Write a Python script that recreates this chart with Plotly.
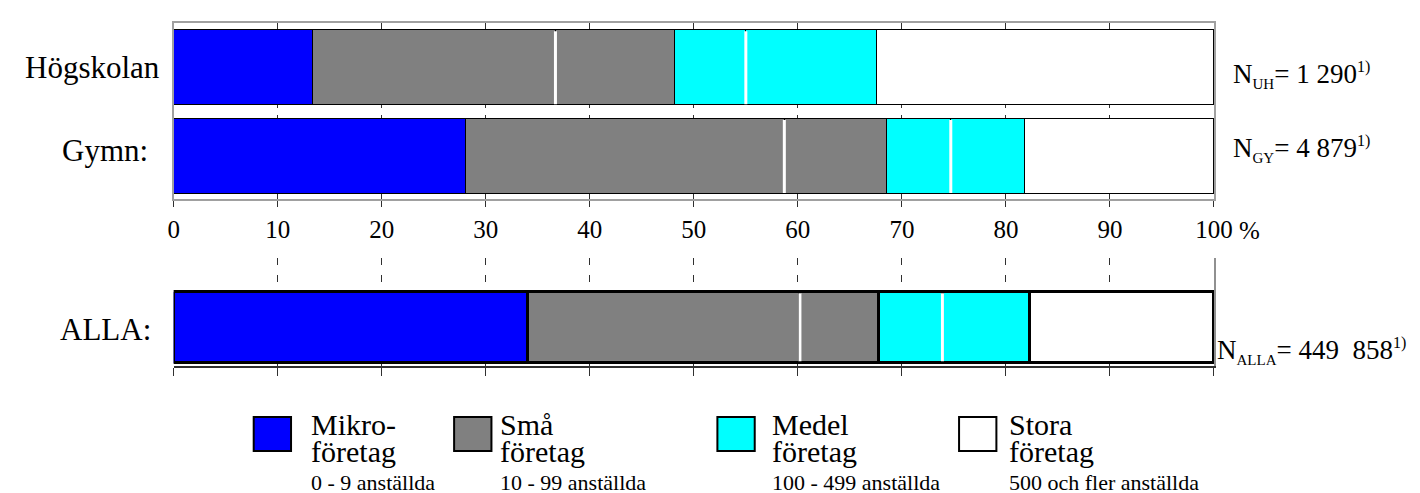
import plotly.graph_objects as go

# ---------------- data (percent of employees by company size) ----------------
groups = ["Högskolan", "Gymn:"]
group_n_sub = ["UH", "GY"]
group_n_val = ["1 290", "4 879"]
mikro = [13.4, 28.1]      # 0 - 9 anställda
sma_a = [23.3, 30.6]      # 10 - 49
sma_b = [11.5, 9.8]       # 50 - 99
medel_a = [6.8, 6.2]      # 100 - 199
medel_b = [12.6, 7.1]     # 200 - 499
stora = [32.4, 18.2]      # 500 -

all_label = "ALLA:"
all_n_sub = "ALLA"
all_n_val = "449\u00a0\u00a0858"
all_mikro = [34.0]
all_sma_a = [26.2]
all_sma_b = [7.6]
all_medel_a = [6.1]
all_medel_b = [8.4]
all_stora = [17.7]

tick_values = [0, 10, 20, 30, 40, 50, 60, 70, 80, 90, 100]
tick_labels = ["0", "10", "20", "30", "40", "50", "60", "70", "80", "90", "100"]

legend_titles = ["Mikro-", "Små", "Medel", "Stora"]
legend_sub = ["0 - 9 anställda", "10 - 99 anställda", "100 - 499 anställda", "500 och fler anställda"]

# ---------------- styling ----------------
W, H = 1420, 493
FONT = "Liberation Serif"
BLUE, GRAY, CYAN, WHITE = "#0000FF", "#808080", "#00FFFF", "#FFFFFF"
seg_colors = [BLUE, GRAY, GRAY, CYAN, CYAN, WHITE]


def px(x):
    return x / W


def py(y):
    return 1 - y / H


def n_label(sub, val):
    return ("N<sub><span style='font-size:15px'>" + sub + "</span></sub>= " + val +
            "<sup><span style='font-size:16px'>1)</span></sup>")


def legend_text(title, sub):
    return ("<span style='font-size:30px'>" + title + "</span><br>"
            "<span style='font-size:30px'>företag</span><br>"
            "<span style='font-size:22px'>" + sub + "</span>")


fig = go.Figure()

top_y = [1, 0]
top_w = 0.845
top_series = [mikro, sma_a, sma_b, medel_a, medel_b, stora]
for vals, col in zip(top_series, seg_colors):
    fig.add_trace(go.Bar(
        x=vals, y=top_y, orientation="h", width=top_w,
        marker=dict(color=col, line=dict(color="black", width=1)),
        xaxis="x", yaxis="y", showlegend=False, hoverinfo="skip"))

all_series = [all_mikro, all_sma_a, all_sma_b, all_medel_a, all_medel_b, all_stora]
all_w = 0.8
for vals, col in zip(all_series, seg_colors):
    fig.add_trace(go.Bar(
        x=vals, y=[0], orientation="h", width=all_w,
        marker=dict(color=col, line=dict(color="black", width=3)),
        xaxis="x2", yaxis="y2", showlegend=False, hoverinfo="skip"))

# white separators inside "Små" and "Medel" segments
sx, sy = [], []
for i, yc in enumerate(top_y):
    s1 = mikro[i] + sma_a[i]
    s2 = s1 + sma_b[i] + medel_a[i]
    hw = top_w / 2 - 0.012
    sx += [s1, s1, None, s2, s2, None]
    sy += [yc - hw, yc + hw, None, yc - hw, yc + hw, None]
fig.add_trace(go.Scatter(x=sx, y=sy, mode="lines", line=dict(color="white", width=3),
                         xaxis="x", yaxis="y", showlegend=False, hoverinfo="skip"))

a1 = all_mikro[0] + all_sma_a[0]
a2 = a1 + all_sma_b[0] + all_medel_a[0]
ahw = all_w / 2 - 0.02
fig.add_trace(go.Scatter(x=[a1, a1, None, a2, a2], y=[-ahw, ahw, None, -ahw, ahw],
                         mode="lines", line=dict(color="white", width=3),
                         xaxis="x2", yaxis="y2", showlegend=False, hoverinfo="skip"))

xdom = [px(162.5), px(1221.5)]
fig.update_layout(
    width=W, height=H,
    margin=dict(l=0, r=0, t=0, b=0),
    paper_bgcolor="white", plot_bgcolor="white",
    barmode="stack", bargap=0,
    font=dict(family=FONT, color="black", size=25),
    xaxis=dict(domain=xdom, range=[0, 100], anchor="y",
               showline=True, linecolor="#a0a0a0", linewidth=2, mirror=True,
               ticks="outside", ticklen=6, tickcolor="#303030", tickwidth=1,
               tickvals=tick_values, ticktext=tick_labels,
               tickfont=dict(family=FONT, size=25, color="black"),
               ticklabelstandoff=1,
               showgrid=True, gridcolor="#303030", gridwidth=1,
               griddash="85px,7px,400px", zeroline=False, fixedrange=True),
    yaxis=dict(domain=[py(191), py(15)], range=[-0.479, 1.504], anchor="x",
               showline=True, linecolor="#a0a0a0", linewidth=2, mirror=True,
               showticklabels=False, ticks="", showgrid=False, zeroline=False,
               fixedrange=True),
    xaxis2=dict(domain=xdom, range=[0, 100], anchor="y2",
                showline=True, linecolor="#303030", linewidth=2,
                ticks="outside", ticklen=8, tickcolor="#303030", tickwidth=1,
                tickvals=tick_values, showticklabels=False,
                showgrid=False, zeroline=False, fixedrange=True,
                minor=dict(tickvals=tick_values[1:-1], showgrid=True,
                           gridcolor="#303030", gridwidth=1,
                           griddash="7px,10px", ticks="")),
    yaxis2=dict(domain=[py(358), py(250)], range=[-0.433, 0.775], anchor="x2",
                side="right", showline=True, linecolor="#909090", linewidth=2,
                showticklabels=False, ticks="", showgrid=False, zeroline=False,
                fixedrange=True),
)

ann = []
# group labels
ann.append(dict(text=groups[0], x=px(9), y=py(60), xanchor="left", yanchor="middle",
                font=dict(size=31)))
ann.append(dict(text=groups[1], x=px(47), y=py(142), xanchor="left", yanchor="middle",
                font=dict(size=31)))
ann.append(dict(text=all_label, x=px(45), y=py(321), xanchor="left", yanchor="middle",
                font=dict(size=31)))
# N labels
ann.append(dict(text=n_label(group_n_sub[0], group_n_val[0]), x=px(1239), y=py(67),
                xanchor="left", yanchor="middle", font=dict(size=27)))
ann.append(dict(text=n_label(group_n_sub[1], group_n_val[1]), x=px(1239), y=py(141),
                xanchor="left", yanchor="middle", font=dict(size=27)))
ann.append(dict(text=n_label(all_n_sub, all_n_val), x=px(1223), y=py(343),
                xanchor="left", yanchor="middle", font=dict(size=27)))
# percent sign
ann.append(dict(text="%", x=px(1258), y=py(223), xanchor="center", yanchor="middle",
                font=dict(size=25)))

# legend
box_x = [244, 448, 716, 962]
text_x = [300, 493, 770, 1011]
colors4 = [BLUE, GRAY, CYAN, WHITE]
shapes = []
for bx, tx, col, t1, t2 in zip(box_x, text_x, colors4, legend_titles, legend_sub):
    shapes.append(dict(type="rect", xref="paper", yref="paper",
                       x0=px(bx), x1=px(bx + 38), y0=py(443), y1=py(409),
                       fillcolor=col, line=dict(color="black", width=2)))
    ann.append(dict(text=legend_text(t1, t2), x=px(tx), y=py(398), align="left",
                    xanchor="left", yanchor="top", font=dict(size=21)))

for a in ann:
    a.update(xref="paper", yref="paper", showarrow=False)
    a["font"].update(family=FONT, color="black")

fig.update_layout(annotations=ann, shapes=shapes)

fig.write_html("out.html")
